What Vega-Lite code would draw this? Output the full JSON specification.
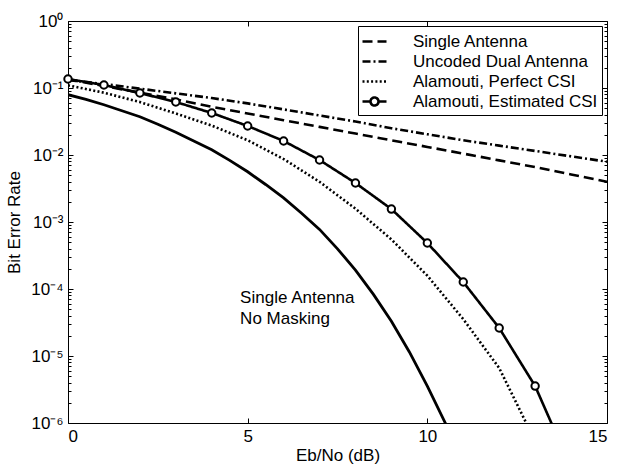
{
  "$schema": "https://vega.github.io/schema/vega-lite/v6.json",
  "width": 539,
  "height": 402,
  "autosize": {"type": "none"},
  "padding": {"left": 68, "top": 21, "right": 11, "bottom": 50},
  "background": "white",
  "config": {
    "font": "Liberation Sans",
    "view": {"stroke": "black", "strokeWidth": 1},
    "axis": {"grid": false, "domain": false, "tickColor": "black", "tickWidth": 1, "labelColor": "black", "labelFont": "Liberation Sans", "labelFontSize": 17, "titleColor": "black", "titleFont": "Liberation Sans", "titleFontSize": 17, "titleFontWeight": "normal"}
  },
  "datasets": {
    "ber": [
      {"x": 0, "ber": 0.1349, "series": "Single Antenna"},
      {"x": 1, "ber": 0.1072, "series": "Single Antenna"},
      {"x": 2, "ber": 0.0851, "series": "Single Antenna"},
      {"x": 3, "ber": 0.0676, "series": "Single Antenna"},
      {"x": 4, "ber": 0.0525, "series": "Single Antenna"},
      {"x": 5, "ber": 0.0417, "series": "Single Antenna"},
      {"x": 6, "ber": 0.0331, "series": "Single Antenna"},
      {"x": 7, "ber": 0.0263, "series": "Single Antenna"},
      {"x": 8, "ber": 0.0209, "series": "Single Antenna"},
      {"x": 9, "ber": 0.0166, "series": "Single Antenna"},
      {"x": 10, "ber": 0.0132, "series": "Single Antenna"},
      {"x": 11, "ber": 0.0105, "series": "Single Antenna"},
      {"x": 12, "ber": 0.00832, "series": "Single Antenna"},
      {"x": 13, "ber": 0.00661, "series": "Single Antenna"},
      {"x": 14, "ber": 0.00513, "series": "Single Antenna"},
      {"x": 15, "ber": 0.00398, "series": "Single Antenna"},
      {"x": 0, "ber": 0.1318, "series": "Uncoded Dual Antenna"},
      {"x": 1, "ber": 0.1148, "series": "Uncoded Dual Antenna"},
      {"x": 2, "ber": 0.0977, "series": "Uncoded Dual Antenna"},
      {"x": 3, "ber": 0.0832, "series": "Uncoded Dual Antenna"},
      {"x": 4, "ber": 0.0708, "series": "Uncoded Dual Antenna"},
      {"x": 5, "ber": 0.0589, "series": "Uncoded Dual Antenna"},
      {"x": 6, "ber": 0.0479, "series": "Uncoded Dual Antenna"},
      {"x": 7, "ber": 0.0389, "series": "Uncoded Dual Antenna"},
      {"x": 8, "ber": 0.0316, "series": "Uncoded Dual Antenna"},
      {"x": 9, "ber": 0.0251, "series": "Uncoded Dual Antenna"},
      {"x": 10, "ber": 0.0204, "series": "Uncoded Dual Antenna"},
      {"x": 11, "ber": 0.0166, "series": "Uncoded Dual Antenna"},
      {"x": 12, "ber": 0.0138, "series": "Uncoded Dual Antenna"},
      {"x": 13, "ber": 0.0115, "series": "Uncoded Dual Antenna"},
      {"x": 14, "ber": 0.00955, "series": "Uncoded Dual Antenna"},
      {"x": 15, "ber": 0.00794, "series": "Uncoded Dual Antenna"},
      {"x": 0, "ber": 0.1096, "series": "Alamouti, Perfect CSI"},
      {"x": 1, "ber": 0.0851, "series": "Alamouti, Perfect CSI"},
      {"x": 2, "ber": 0.0617, "series": "Alamouti, Perfect CSI"},
      {"x": 3, "ber": 0.0417, "series": "Alamouti, Perfect CSI"},
      {"x": 4, "ber": 0.0275, "series": "Alamouti, Perfect CSI"},
      {"x": 5, "ber": 0.0166, "series": "Alamouti, Perfect CSI"},
      {"x": 6, "ber": 0.00871, "series": "Alamouti, Perfect CSI"},
      {"x": 7, "ber": 0.00398, "series": "Alamouti, Perfect CSI"},
      {"x": 8, "ber": 0.00158, "series": "Alamouti, Perfect CSI"},
      {"x": 9, "ber": 0.00055, "series": "Alamouti, Perfect CSI"},
      {"x": 10, "ber": 0.000158, "series": "Alamouti, Perfect CSI"},
      {"x": 11, "ber": 0.0000355, "series": "Alamouti, Perfect CSI"},
      {"x": 12, "ber": 0.00000661, "series": "Alamouti, Perfect CSI"},
      {"x": 13, "ber": 0.000000537, "series": "Alamouti, Perfect CSI"},
      {"x": 0, "ber": 0.1361, "series": "Alamouti, Estimated CSI"},
      {"x": 1, "ber": 0.1109, "series": "Alamouti, Estimated CSI"},
      {"x": 2, "ber": 0.0841, "series": "Alamouti, Estimated CSI"},
      {"x": 3, "ber": 0.0618, "series": "Alamouti, Estimated CSI"},
      {"x": 4, "ber": 0.0424, "series": "Alamouti, Estimated CSI"},
      {"x": 5, "ber": 0.0271, "series": "Alamouti, Estimated CSI"},
      {"x": 6, "ber": 0.0162, "series": "Alamouti, Estimated CSI"},
      {"x": 7, "ber": 0.00841, "series": "Alamouti, Estimated CSI"},
      {"x": 8, "ber": 0.00382, "series": "Alamouti, Estimated CSI"},
      {"x": 9, "ber": 0.00156, "series": "Alamouti, Estimated CSI"},
      {"x": 10, "ber": 0.000486, "series": "Alamouti, Estimated CSI"},
      {"x": 11, "ber": 0.000127, "series": "Alamouti, Estimated CSI"},
      {"x": 12, "ber": 0.0000262, "series": "Alamouti, Estimated CSI"},
      {"x": 13, "ber": 0.00000356, "series": "Alamouti, Estimated CSI"},
      {"x": 14, "ber": 0.000000214, "series": "Alamouti, Estimated CSI"},
      {"x": 0, "ber": 0.0794, "series": "Single Antenna, No Masking"},
      {"x": 0.5, "ber": 0.0676, "series": "Single Antenna, No Masking"},
      {"x": 1, "ber": 0.0562, "series": "Single Antenna, No Masking"},
      {"x": 1.5, "ber": 0.0457, "series": "Single Antenna, No Masking"},
      {"x": 2, "ber": 0.0372, "series": "Single Antenna, No Masking"},
      {"x": 2.5, "ber": 0.0288, "series": "Single Antenna, No Masking"},
      {"x": 3, "ber": 0.0219, "series": "Single Antenna, No Masking"},
      {"x": 3.5, "ber": 0.0162, "series": "Single Antenna, No Masking"},
      {"x": 4, "ber": 0.012, "series": "Single Antenna, No Masking"},
      {"x": 4.5, "ber": 0.00832, "series": "Single Antenna, No Masking"},
      {"x": 5, "ber": 0.00562, "series": "Single Antenna, No Masking"},
      {"x": 5.5, "ber": 0.00363, "series": "Single Antenna, No Masking"},
      {"x": 6, "ber": 0.00229, "series": "Single Antenna, No Masking"},
      {"x": 6.5, "ber": 0.00135, "series": "Single Antenna, No Masking"},
      {"x": 7, "ber": 0.000776, "series": "Single Antenna, No Masking"},
      {"x": 7.5, "ber": 0.000398, "series": "Single Antenna, No Masking"},
      {"x": 8, "ber": 0.000191, "series": "Single Antenna, No Masking"},
      {"x": 8.5, "ber": 0.0000832, "series": "Single Antenna, No Masking"},
      {"x": 9, "ber": 0.0000331, "series": "Single Antenna, No Masking"},
      {"x": 9.5, "ber": 0.0000115, "series": "Single Antenna, No Masking"},
      {"x": 10, "ber": 0.00000355, "series": "Single Antenna, No Masking"},
      {"x": 10.5, "ber": 0.000001, "series": "Single Antenna, No Masking"},
      {"x": 11, "ber": 0.00000025, "series": "Single Antenna, No Masking"}
    ]
  },
  "resolve": {"axis": {"x": "independent", "y": "independent"}},
  "layer": [
    {
      "data": {"name": "ber"},
      "transform": [{"filter": "datum.series !== 'Single Antenna, No Masking'"}],
      "mark": {"type": "line", "clip": true, "color": "black", "strokeWidth": 2.6, "strokeCap": "butt"},
      "encoding": {
        "x": {"field": "x", "type": "quantitative", "scale": {"domain": [0, 15], "nice": false, "zero": false},
          "axis": {"orient": "bottom", "values": [0, 5, 10, 15], "tickSize": -5, "labelPadding": 10, "title": "Eb/No (dB)", "titlePadding": 3}},
        "y": {"field": "ber", "type": "quantitative", "scale": {"type": "log", "domain": [0.000001, 1], "nice": false},
          "axis": {"orient": "left", "values": [1, 0.1, 0.01, 0.001, 0.0001, 0.00001, 0.000001], "tickSize": -5, "labelPadding": 10,
            "labelExpr": "['10⁰','10⁻¹','10⁻²','10⁻³','10⁻⁴','10⁻⁵','10⁻⁶'][round(-log(datum.value)/LN10)]",
            "title": "Bit Error Rate", "titlePadding": 7}},
        "strokeDash": {"field": "series", "type": "nominal",
          "scale": {"domain": ["Single Antenna", "Uncoded Dual Antenna", "Alamouti, Perfect CSI", "Alamouti, Estimated CSI"],
                    "range": [[10, 5], [8, 3, 2, 3], [2, 2.3], [1, 0]]},
          "legend": {"title": null, "orient": "top-right", "offset": 5, "strokeColor": "black", "fillColor": "white", "padding": 4,
            "labelFontSize": 17, "labelFont": "Liberation Sans", "labelColor": "black", "labelLimit": 400,
            "symbolSize": 400, "symbolStrokeWidth": 2.6, "symbolStrokeColor": "black", "symbolFillColor": "white",
            "symbolType": "M-1.1,0L1.3,0",
            "rowPadding": 0, "labelOffset": 28,
            "encode": {"symbols": {"update": {"shape": {"signal": "datum.value === 'Alamouti, Estimated CSI' ? 'M-1.1,0L-0.3,0M0.5,0L1.3,0M0.5,0A0.4,0.4,0,1,1,-0.3,0A0.4,0.4,0,1,1,0.5,0' : 'M-1.1,0L1.3,0'"}}}}}}
      }
    },
    {
      "data": {"name": "ber"},
      "transform": [{"filter": "datum.series === 'Single Antenna, No Masking'"}],
      "mark": {"type": "line", "clip": true, "color": "black", "strokeWidth": 2.8},
      "encoding": {
        "x": {"field": "x", "type": "quantitative", "scale": {"domain": [0, 15], "nice": false, "zero": false},
          "axis": {"orient": "top", "values": [0, 5, 10, 15], "tickSize": -5, "labels": false, "title": null}},
        "y": {"field": "ber", "type": "quantitative", "scale": {"type": "log", "domain": [0.000001, 1], "nice": false},
          "axis": {"orient": "right", "values": [1, 0.1, 0.01, 0.001, 0.0001, 0.00001, 0.000001], "tickSize": -5, "labels": false, "title": null}}
      }
    },
    {
      "data": {"name": "ber"},
      "transform": [{"filter": "datum.series === 'Alamouti, Estimated CSI' && datum.ber >= 0.000001"}],
      "mark": {"type": "point", "clip": false, "shape": "circle", "size": 55, "filled": true, "fill": "white", "stroke": "black", "strokeWidth": 2, "opacity": 1},
      "encoding": {
        "x": {"field": "x", "type": "quantitative", "scale": {"domain": [0, 15], "nice": false, "zero": false}, "axis": null},
        "y": {"field": "ber", "type": "quantitative", "scale": {"type": "log", "domain": [0.000001, 1], "nice": false},
          "axis": {"orient": "left", "labels": false, "title": null, "tickSize": -3,
            "values": [0.000002, 0.000003, 0.000004, 0.000005, 0.000006, 0.000007, 0.000008, 0.000009,
                       0.00002, 0.00003, 0.00004, 0.00005, 0.00006, 0.00007, 0.00008, 0.00009,
                       0.0002, 0.0003, 0.0004, 0.0005, 0.0006, 0.0007, 0.0008, 0.0009,
                       0.002, 0.003, 0.004, 0.005, 0.006, 0.007, 0.008, 0.009,
                       0.02, 0.03, 0.04, 0.05, 0.06, 0.07, 0.08, 0.09,
                       0.2, 0.3, 0.4, 0.5, 0.6, 0.7, 0.8, 0.9]}}
      }
    },
    {
      "data": {"values": [{}]},
      "mark": {"type": "text", "text": ["Single Antenna", "No Masking"], "align": "left", "baseline": "alphabetic", "fontSize": 17, "lineHeight": 21, "font": "Liberation Sans", "color": "black"},
      "encoding": {
        "x": {"datum": 4.79, "type": "quantitative", "scale": {"domain": [0, 15], "nice": false, "zero": false}, "axis": null},
        "y": {"datum": 0.0000618, "type": "quantitative", "scale": {"type": "log", "domain": [0.000001, 1], "nice": false},
          "axis": {"orient": "right", "labels": false, "title": null, "tickSize": -3,
            "values": [0.000002, 0.000003, 0.000004, 0.000005, 0.000006, 0.000007, 0.000008, 0.000009,
                       0.00002, 0.00003, 0.00004, 0.00005, 0.00006, 0.00007, 0.00008, 0.00009,
                       0.0002, 0.0003, 0.0004, 0.0005, 0.0006, 0.0007, 0.0008, 0.0009,
                       0.002, 0.003, 0.004, 0.005, 0.006, 0.007, 0.008, 0.009,
                       0.02, 0.03, 0.04, 0.05, 0.06, 0.07, 0.08, 0.09,
                       0.2, 0.3, 0.4, 0.5, 0.6, 0.7, 0.8, 0.9]}}
      }
    }
  ]
}
